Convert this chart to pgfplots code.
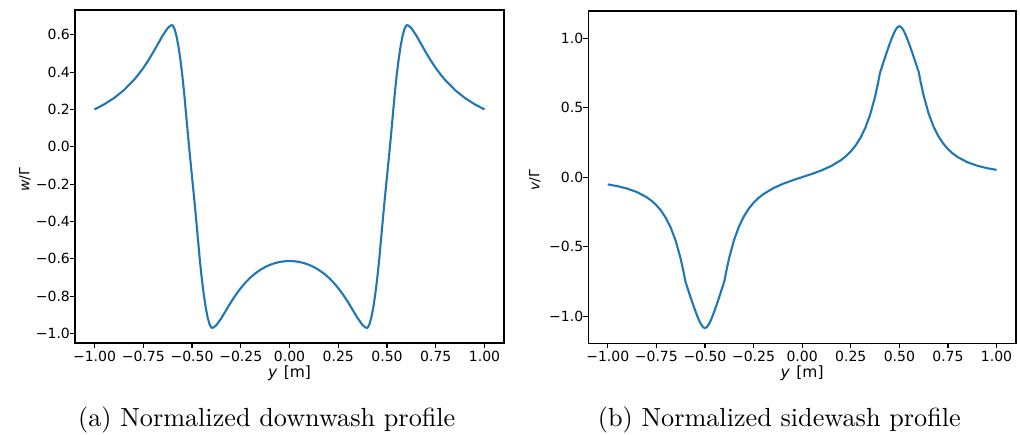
\documentclass[border=0pt]{standalone}
\usepackage{fontspec}
\usepackage{pgfplots}
\pgfplotsset{compat=1.18}
\newfontfamily\dv{DejaVu Sans}
\newfontfamily\lmten{lmroman10-regular}[Extension=.otf]
\definecolor{mplblue}{HTML}{1F77B4}
\pgfplotstableread{
y w
-1.000 0.2004
-0.950 0.2278
-0.900 0.2614
-0.850 0.3032
-0.800 0.3558
-0.775 0.3871
-0.750 0.4223
-0.725 0.4616
-0.700 0.5049
-0.675 0.5511
-0.650 0.5972
-0.625 0.6360
-0.610 0.6499
-0.600 0.6523
-0.590 0.633
-0.580 0.596
-0.570 0.541
-0.560 0.471
-0.550 0.386
-0.540 0.286
-0.530 0.171
-0.520 0.056
-0.510 -0.054
-0.500 -0.159
-0.490 -0.264
-0.480 -0.374
-0.470 -0.489
-0.460 -0.604
-0.450 -0.704
-0.440 -0.789
-0.430 -0.859
-0.420 -0.914
-0.410 -0.951
-0.400 -0.9703
-0.390 -0.9688
-0.375 -0.9559
-0.350 -0.9192
-0.325 -0.8757
-0.300 -0.8325
-0.275 -0.7927
-0.250 -0.7573
-0.225 -0.7266
-0.200 -0.7003
-0.175 -0.6781
-0.150 -0.6596
-0.125 -0.6445
-0.100 -0.6326
-0.075 -0.6235
-0.050 -0.6171
-0.025 -0.6134
0.000 -0.6121
0.025 -0.6134
0.050 -0.6171
0.075 -0.6235
0.100 -0.6326
0.125 -0.6445
0.150 -0.6596
0.175 -0.6781
0.200 -0.7003
0.225 -0.7266
0.250 -0.7573
0.275 -0.7927
0.300 -0.8325
0.325 -0.8757
0.350 -0.9192
0.375 -0.9559
0.390 -0.9688
0.400 -0.9703
0.410 -0.951
0.420 -0.914
0.430 -0.859
0.440 -0.789
0.450 -0.704
0.460 -0.604
0.470 -0.489
0.480 -0.374
0.490 -0.264
0.500 -0.159
0.510 -0.054
0.520 0.056
0.530 0.171
0.540 0.286
0.550 0.386
0.560 0.471
0.570 0.541
0.580 0.596
0.590 0.633
0.600 0.6523
0.610 0.6499
0.625 0.6360
0.650 0.5972
0.675 0.5511
0.700 0.5049
0.725 0.4616
0.750 0.4223
0.775 0.3871
0.800 0.3558
0.850 0.3032
0.900 0.2614
0.950 0.2278
1.000 0.2004
}\downwash
\pgfplotstableread{
y v
-1.000 -0.0522
-0.950 -0.0649
-0.900 -0.0824
-0.850 -0.1073
-0.800 -0.1443
-0.775 -0.1696
-0.750 -0.2017
-0.725 -0.2427
-0.700 -0.2960
-0.675 -0.3663
-0.650 -0.4601
-0.625 -0.5861
-0.610 -0.6812
-0.600 -0.7538
-0.590 -0.796
-0.580 -0.838
-0.570 -0.880
-0.560 -0.921
-0.550 -0.960
-0.540 -0.997
-0.530 -1.031
-0.520 -1.059
-0.510 -1.078
-0.500 -1.086
-0.490 -1.078
-0.480 -1.058
-0.470 -1.030
-0.460 -0.995
-0.450 -0.958
-0.440 -0.918
-0.430 -0.877
-0.420 -0.834
-0.410 -0.791
-0.400 -0.7477
-0.390 -0.6744
-0.375 -0.5784
-0.350 -0.4507
-0.325 -0.3551
-0.300 -0.2830
-0.275 -0.2277
-0.250 -0.1846
-0.225 -0.1504
-0.200 -0.1226
-0.150 -0.0802
-0.100 -0.0487
-0.050 -0.0231
0.000 0.0000
0.050 0.0231
0.100 0.0487
0.150 0.0802
0.200 0.1226
0.225 0.1504
0.250 0.1846
0.275 0.2277
0.300 0.2830
0.325 0.3551
0.350 0.4507
0.375 0.5784
0.390 0.6744
0.400 0.7477
0.410 0.791
0.420 0.834
0.430 0.877
0.440 0.918
0.450 0.958
0.460 0.995
0.470 1.030
0.480 1.058
0.490 1.078
0.500 1.086
0.510 1.078
0.520 1.059
0.530 1.031
0.540 0.997
0.550 0.960
0.560 0.921
0.570 0.880
0.580 0.838
0.590 0.796
0.600 0.7538
0.610 0.6812
0.625 0.5861
0.650 0.4601
0.675 0.3663
0.700 0.2960
0.725 0.2427
0.750 0.2017
0.775 0.1696
0.800 0.1443
0.850 0.1073
0.900 0.0824
0.950 0.0649
1.000 0.0522
}\sidewash
\pgfplotsset{
  mpl/.style={
    scale only axis,
    tick align=outside,
    tick pos=left,
    major tick length=4.9pt,
    xmin=-1.1, xmax=1.1,
    axis line style={line width=1.1pt, black},
    every tick/.style={black, line width=1.1pt},
    tick label style={font=\dv\fontsize{14}{16}\selectfont, black},
    xtick={-1,-0.75,-0.5,-0.25,0,0.25,0.5,0.75,1},
    xticklabels={−1.00,−0.75,−0.50,−0.25,0.00,0.25,0.50,0.75,1.00},
    xticklabel style={anchor=north, inner sep=0pt, yshift=-3pt},
    yticklabel style={anchor=east, inner sep=0pt, xshift=0pt},
    xlabel={\textit{y}\hspace{1.5pt} [m]},
    every axis x label/.style={at={(axis description cs:0.5,-0.104)}, anchor=base, font=\dv\fontsize{15.5}{18}\selectfont},
  }
}
\begin{document}
\begin{tikzpicture}[x=1pt,y=1pt]
\useasboundingbox (0pt,0pt) rectangle (1020pt,435pt);
\begin{axis}[mpl,
  at={(75pt,92pt)}, anchor=south west,
  width=429pt, height=333pt,
  ymin=-1.0515, ymax=0.7334,
  ytick={-1,-0.8,-0.6,-0.4,-0.2,0,0.2,0.4,0.6},
  yticklabels={−1.0,−0.8,−0.6,−0.4,−0.2,0.0,0.2,0.4,0.6},
  ylabel={\textit{w}/Γ},
  every axis y label/.style={at={(axis description cs:-0.1166,0.49)}, rotate=90, anchor=center, font=\dv\fontsize{14}{16}\selectfont},
]
\addplot[mplblue, line width=2.1pt, line join=round] table[x=y, y=w] {\downwash};
\end{axis}
\begin{axis}[mpl,
  at={(588.3pt,91.7pt)}, anchor=south west,
  width=427.7pt, height=332.3pt,
  ymin=-1.195, ymax=1.195,
  ytick={-1,-0.5,0,0.5,1},
  yticklabels={−1.0,−0.5,0.0,0.5,1.0},
  ylabel={\textit{v}/Γ},
  every axis y label/.style={at={(axis description cs:-0.1246,0.49)}, rotate=90, anchor=center, font=\dv\fontsize{14}{16}\selectfont},
]
\addplot[mplblue, line width=2.1pt, line join=round] table[x=y, y=v] {\sidewash};
\end{axis}
\node[anchor=base, font=\lmten\fontsize{26.2}{31}\selectfont] at (266.7pt,8.3pt) {(a) Normalized downwash profile};
\node[anchor=base, font=\lmten\fontsize{26.2}{31}\selectfont] at (779.3pt,8.3pt) {(b) Normalized sidewash profile};
\end{tikzpicture}
\end{document}
